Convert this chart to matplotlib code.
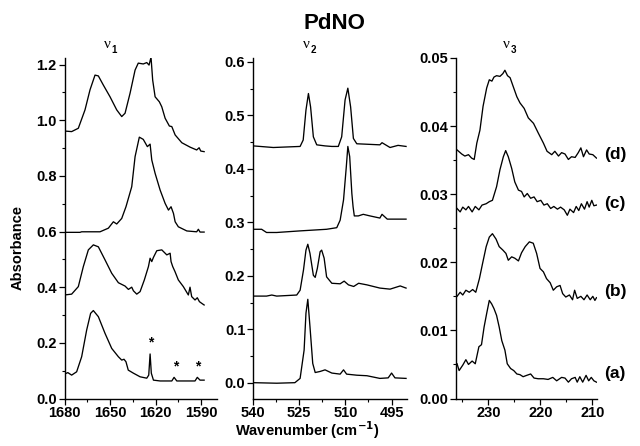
import numpy as np
import matplotlib
matplotlib.use("Agg")
import matplotlib.pyplot as plt
from matplotlib.ticker import MultipleLocator

# ---- data (wavenumber, absorbance) ----
# nu1 panel
nu1_d_x = [1680, 1675.3, 1670.9, 1666.5, 1663.2, 1659.9, 1657.7, 1654.4, 1650, 1645.6, 1642.3, 1640.1,
           1636.8, 1633.5, 1631.4, 1628.1, 1625.8, 1624.3, 1623.0, 1621.9, 1620.3, 1617.5, 1615.9,
           1613.7, 1610.9, 1609.3, 1607.1, 1602.7, 1597.2, 1592.9, 1591.3, 1590.2, 1588]
nu1_d_y = [0.961, 0.959, 0.971, 1.037, 1.109, 1.162, 1.159, 1.126, 1.084, 1.037, 1.013, 1.025,
           1.097, 1.180, 1.205, 1.202, 1.207, 1.198, 1.226, 1.144, 1.084, 1.066, 1.048,
           1.007, 0.979, 0.977, 0.947, 0.919, 0.903, 0.893, 0.901, 0.889, 0.887]

nu1_c_x = [1680, 1669.8, 1668.7, 1656.6, 1651.1, 1647.8, 1645.6, 1642.3, 1639.5, 1635.7, 1633.5,
           1630.7, 1628.1, 1625.4, 1623.6, 1622.5, 1620.3, 1617.0, 1613.7, 1611.5, 1609.8, 1608.2,
           1607.1, 1605, 1599.4, 1592.9, 1591.8, 1590.7, 1588]
nu1_c_y = [0.597, 0.597, 0.599, 0.599, 0.612, 0.635, 0.627, 0.647, 0.689, 0.761, 0.869,
           0.939, 0.931, 0.905, 0.914, 0.857, 0.809, 0.749, 0.701, 0.677, 0.689, 0.665,
           0.635, 0.617, 0.602, 0.599, 0.608, 0.598, 0.598]

nu1_b_x = [1680, 1675.3, 1670.9, 1667.6, 1664.3, 1661, 1657.7, 1653.3, 1648.9, 1644.5, 1640.1,
           1637.9, 1635.7, 1634.6, 1632.4, 1630.2, 1627.4, 1624.7, 1623.6, 1622.5, 1621.4, 1619.2,
           1615.9, 1612.6, 1610.4, 1609.8, 1608.7, 1607.2, 1605, 1601.7, 1598.4, 1597.3, 1596.2,
           1594, 1592.5, 1591.1, 1589.6, 1588]
nu1_b_y = [0.372, 0.375, 0.402, 0.474, 0.534, 0.552, 0.545, 0.498, 0.450, 0.416, 0.404,
           0.392, 0.400, 0.387, 0.375, 0.384, 0.426, 0.474, 0.504, 0.492, 0.507, 0.531,
           0.534, 0.516, 0.522, 0.492, 0.474, 0.456, 0.426, 0.402, 0.372, 0.400, 0.366,
           0.354, 0.362, 0.348, 0.342, 0.336]

nu1_a_x = [1680, 1677.8, 1675.3, 1672, 1668.7, 1665.4, 1662.8, 1661, 1657.7, 1653.3, 1648.9,
           1644.5, 1642.3, 1640.8, 1639.5, 1638, 1634.6, 1630.2, 1625.8, 1624.5, 1623.6, 1622.8,
           1621.4, 1617, 1609.3, 1607.8, 1606, 1594, 1592.5, 1590.7, 1588]
nu1_a_y = [0.088, 0.093, 0.084, 0.096, 0.150, 0.246, 0.306, 0.316, 0.294, 0.234, 0.180,
           0.150, 0.138, 0.141, 0.132, 0.102, 0.091, 0.078, 0.073, 0.084, 0.160, 0.091,
           0.066, 0.063, 0.063, 0.076, 0.063, 0.063, 0.076, 0.066, 0.066]

star_x = [1623.2, 1606.5, 1592.5]
star_y = [0.200, 0.116, 0.116]

# nu2 panel
nu2_d_x = [539.9, 537.7, 533.4, 524.7, 523.7, 522.8, 522.0, 521.3, 520.4, 519.3, 516.6, 514.4,
           512.3, 511.2, 510.1, 509.2, 508.3, 507.4, 506.3, 498.8, 498.1, 495.5, 492.9, 490.3]
nu2_d_y = [0.443, 0.442, 0.440, 0.442, 0.454, 0.510, 0.541, 0.516, 0.460, 0.445, 0.443, 0.442,
           0.442, 0.460, 0.529, 0.551, 0.516, 0.457, 0.447, 0.445, 0.449, 0.440, 0.444, 0.442]

nu2_c_x = [539.9, 537.2, 535.6, 532.3, 524.7, 516.1, 512.8, 511.7, 510.6, 509.7, 509.2, 508.6,
           507.9, 507.5, 507.1, 505.8, 504.2, 502, 498.8, 498.1, 496.4, 490.3]
nu2_c_y = [0.287, 0.287, 0.281, 0.281, 0.284, 0.287, 0.290, 0.304, 0.342, 0.404, 0.442, 0.423,
           0.354, 0.329, 0.312, 0.312, 0.315, 0.312, 0.308, 0.315, 0.306, 0.306]

nu2_b_x = [539.9, 535.6, 533.9, 532.3, 525.8, 524.7, 523.6, 522.8, 522.2, 521.5, 520.4, 519.8,
           519.1, 518.2, 517.7, 516.9, 516.1, 514.4, 511.7, 510.4, 509, 507.3, 505.7, 503,
           498.8, 495.5, 492.2, 490.3]
nu2_b_y = [0.162, 0.162, 0.164, 0.162, 0.164, 0.173, 0.211, 0.248, 0.259, 0.242, 0.201, 0.197,
           0.214, 0.245, 0.248, 0.233, 0.198, 0.186, 0.185, 0.190, 0.183, 0.180, 0.186, 0.183,
           0.177, 0.175, 0.181, 0.177]

nu2_a_x = [539.9, 532.3, 526.4, 524.7, 523.4, 522.8, 522.2, 521.5, 520.6, 519.8, 518.2, 516.6,
           514.4, 511.7, 510.6, 509.6, 506.3, 503.0, 498.8, 496.1, 495, 493.9, 490.3]
nu2_a_y = [0.0, -0.001, 0.0, 0.008, 0.061, 0.130, 0.156, 0.105, 0.036, 0.019, 0.021, 0.024,
           0.018, 0.016, 0.024, 0.016, 0.014, 0.013, 0.008, 0.009, 0.018, 0.009, 0.008]

# nu3 panel
nu3_d_x = [236.0, 235.1, 234.5, 233.8, 233.2, 232.7, 232.2, 231.6, 231.0, 230.3, 229.8, 229.3,
           228.9, 228.4, 227.75, 227.2, 226.8, 226.3, 225.8, 225.2, 224.5, 223.9, 223.1, 222.3,
           221.3, 220.4, 219.4, 218.7, 217.8, 217.2, 216.5, 215.9, 215.25, 214.6, 214.0, 213.3,
           212.7, 212.2, 211.7, 211.1, 210.6, 209.9, 209.2]
nu3_d_y = [0.0365, 0.0359, 0.0356, 0.0358, 0.0353, 0.0351, 0.0375, 0.0394, 0.0429, 0.0456, 0.0468,
           0.0466, 0.0472, 0.0474, 0.0473, 0.0477, 0.0482, 0.0474, 0.0471, 0.0458, 0.0443, 0.0434,
           0.0426, 0.0412, 0.0404, 0.0390, 0.0375, 0.0363, 0.0358, 0.0363, 0.0356, 0.0361, 0.0359,
           0.0351, 0.0355, 0.0354, 0.0361, 0.0368, 0.0355, 0.0365, 0.0359, 0.0358, 0.0353]

nu3_c_x = [236.0, 235.4, 234.9, 234.3, 233.8, 233.1, 232.5, 231.8, 231.2, 230.4, 229.8, 229.2,
           228.4, 227.75, 227.1, 226.65, 226.15, 225.5, 224.9, 224.2, 223.6, 223.1, 222.5, 221.85,
           221.2, 220.6, 219.9, 219.3, 218.65, 218.0, 217.4, 216.7, 216.1, 215.4, 214.8, 214.3,
           213.6, 213.1, 212.6, 212.1, 211.5, 211.0, 210.6, 210.1, 209.7, 209.2]
nu3_c_y = [0.0279, 0.0274, 0.0281, 0.0277, 0.0282, 0.0274, 0.0282, 0.0277, 0.0284, 0.0286, 0.0289,
           0.0291, 0.0311, 0.0336, 0.0355, 0.0364, 0.0355, 0.0338, 0.0318, 0.0306, 0.0304, 0.0296,
           0.0301, 0.0294, 0.0296, 0.0289, 0.0291, 0.0284, 0.0286, 0.0279, 0.0282, 0.0278, 0.0281,
           0.0277, 0.0269, 0.0278, 0.0273, 0.0282, 0.0276, 0.0286, 0.0278, 0.0289, 0.0281, 0.0291,
           0.0283, 0.0284]

nu3_b_x = [236.0, 235.4, 234.9, 234.3, 233.65, 233.0, 232.4, 231.7, 231.1, 230.4, 229.8, 229.2,
           228.5, 227.9, 227.2, 226.6, 226.15, 225.5, 224.9, 224.2, 223.6, 222.9, 222.1, 221.35,
           220.7, 220.05, 219.4, 218.8, 218.1, 217.5, 216.85, 216.2, 215.7, 215.1, 214.4, 213.8,
           213.4, 212.9, 212.2, 211.6, 211.0, 210.4, 209.9, 209.5, 209.2]
nu3_b_y = [0.0150, 0.0156, 0.0152, 0.0159, 0.0156, 0.0160, 0.0156, 0.0176, 0.0198, 0.0223, 0.0237,
           0.0242, 0.0234, 0.0223, 0.0218, 0.0213, 0.0203, 0.0208, 0.0206, 0.0202, 0.0214, 0.0223,
           0.0230, 0.0228, 0.0213, 0.0191, 0.0186, 0.0176, 0.0170, 0.0159, 0.0164, 0.0166, 0.0154,
           0.0149, 0.0152, 0.0145, 0.0159, 0.0147, 0.0150, 0.0145, 0.0152, 0.0145, 0.0150, 0.0144,
           0.0148]

nu3_a_x = [236.0, 235.6, 234.9, 234.3, 233.8, 233.1, 232.5, 231.8, 231.3, 230.8, 230.3, 229.8,
           229.35, 228.9, 228.4, 227.9, 227.4, 226.8, 226.35, 225.7, 225.1, 224.5, 223.9, 223.3,
           222.6, 221.85, 221.2, 220.4, 219.4, 218.5, 217.6, 216.85, 215.9, 215.25, 214.6, 214.0,
           213.3, 212.9, 212.4, 211.85, 211.2, 210.7, 210.2, 209.7, 209.2]
nu3_a_y = [0.0051, 0.0041, 0.0049, 0.0057, 0.0050, 0.0055, 0.0051, 0.0076, 0.0079, 0.0105, 0.0125,
           0.0144, 0.0139, 0.0132, 0.0122, 0.0105, 0.0085, 0.0071, 0.0051, 0.0044, 0.0041, 0.0036,
           0.0035, 0.0032, 0.0034, 0.0036, 0.0030, 0.0029, 0.0029, 0.0028, 0.0031, 0.0026, 0.0031,
           0.0030, 0.0024, 0.0029, 0.0031, 0.0024, 0.0032, 0.0024, 0.0034, 0.0026, 0.0031, 0.0026,
           0.0024]

trace_labels = ["(a)", "(b)", "(c)", "(d)"]
label_y = [0.0037, 0.0157, 0.0286, 0.0358]
mode_names = ["1", "2", "3"]

SANS = "Liberation Sans"
SERIF = "Liberation Serif"

fig = plt.figure(figsize=(6.4, 4.46), dpi=100)

bottom, height = 0.1065, 0.7635
ax1 = fig.add_axes([0.1008, bottom, 0.2383, height])
ax2 = fig.add_axes([0.3953, bottom, 0.2406, height])
ax3 = fig.add_axes([0.7125, bottom, 0.2203, height])

panels = [
    (ax1, [(nu1_a_x, nu1_a_y), (nu1_b_x, nu1_b_y), (nu1_c_x, nu1_c_y), (nu1_d_x, nu1_d_y)],
     (1680, 1579.5), (0, 1.2235), 15, 0.2, 0.1, "%.1f", [1680, 1650, 1620, 1590]),
    (ax2, [(nu2_a_x, nu2_a_y), (nu2_b_x, nu2_b_y), (nu2_c_x, nu2_c_y), (nu2_d_x, nu2_d_y)],
     (540, 490), (-0.0296, 0.6075), 7.5, 0.1, 0.05, "%.1f", [540, 525, 510, 495]),
    (ax3, [(nu3_a_x, nu3_a_y), (nu3_b_x, nu3_b_y), (nu3_c_x, nu3_c_y), (nu3_d_x, nu3_d_y)],
     (236.2, 209.1), (0, 0.05), 5, 0.01, 0.005, "%.2f", [230, 220, 210]),
]

for ax, traces, xl, yl, xmin, ymaj, ymin, fmt, xt in panels:
    for x, y in traces:
        ax.plot(x, y, color="black", lw=0.95)
    ax.set_xlim(*xl)
    ax.set_ylim(*yl)
    ax.set_xticks(xt)
    ax.xaxis.set_minor_locator(MultipleLocator(xmin))
    ax.yaxis.set_major_locator(MultipleLocator(ymaj))
    ax.yaxis.set_minor_locator(MultipleLocator(ymin))
    ax.yaxis.set_major_formatter(matplotlib.ticker.FormatStrFormatter(fmt))
    ax.spines["top"].set_visible(False)
    ax.spines["right"].set_visible(False)
    for s in ("left", "bottom"):
        ax.spines[s].set_linewidth(1.0)
    ax.tick_params(which="major", direction="out", length=4, width=0.9, pad=1.5)
    ax.tick_params(which="minor", direction="out", length=2, width=0.8)
    for lab in ax.get_xticklabels() + ax.get_yticklabels():
        lab.set_fontfamily(SANS)
        lab.set_fontweight("bold")
        lab.set_fontsize(10.5)
    ax.patch.set_alpha(0)

# mode labels
for ax, n, xpos in zip([ax1, ax2, ax3], mode_names, [1652, 522.5, 226.5]):
    ax.annotate("ν", xy=(xpos, 1.0), xycoords=("data", "axes fraction"),
                xytext=(0, 5), textcoords="offset points", ha="center", va="bottom",
                fontfamily=SERIF, fontsize=11)
    ax.annotate(n, xy=(xpos, 1.0), xycoords=("data", "axes fraction"),
                xytext=(5, 2), textcoords="offset points", ha="center", va="bottom",
                fontfamily=SANS, fontweight="bold", fontsize=7)

# asterisks
for sx, sy in zip(star_x, star_y):
    ax1.text(sx, sy, "*", ha="center", va="center", fontfamily=SANS,
             fontweight="bold", fontsize=10)

# trace labels to the right
for t, ly in zip(trace_labels, label_y):
    ax3.text(1.05, ly, t, transform=ax3.get_yaxis_transform(), ha="left", va="center",
             fontfamily=SANS, fontweight="bold", fontsize=12.5, clip_on=False)

fig.text(0.523, 0.948, "PdNO", ha="center", va="center", fontfamily=SANS,
         fontweight="bold", fontsize=16)
fig.text(0.028, 0.445, "Absorbance", rotation=90, ha="center", va="center",
         fontfamily=SANS, fontweight="bold", fontsize=10.5)
fig.text(0.48, 0.012, "Wavenumber (cm$^{\\mathbf{-1}}$)", ha="center", va="bottom",
         fontfamily=SANS, fontweight="bold", fontsize=10.5)

fig.savefig("out.png", dpi=100)
